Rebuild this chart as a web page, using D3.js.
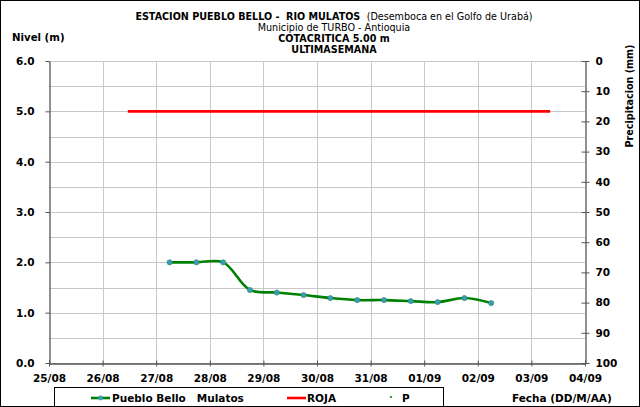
<!DOCTYPE html>
<html><head><meta charset="utf-8">
<script src="https://cdn.jsdelivr.net/npm/d3@7"></script>
<style>
body{margin:0;background:#fff;}
svg{display:block;font-family:"DejaVu Sans",sans-serif;}
.b{font-weight:bold;}
</style></head>
<body>
<svg id="c" width="640" height="407"></svg>
<script>
// ---- data ----
const dateLabels = ["25/08","26/08","27/08","28/08","29/08","30/08","31/08","01/09","02/09","03/09","04/09"];
const levelTicks = [0,1,2,3,4,5,6];
const precipTicks = [0,10,20,30,40,50,60,70,80,90,100];
// days since 25/08 00:00
const levelDays = [2.25,2.75,3.25,3.75,4.25,4.75,5.25,5.75,6.25,6.75,7.25,7.75,8.25];
const levelValues = [2.00,2.00,2.00,1.45,1.40,1.35,1.29,1.25,1.25,1.23,1.21,1.29,1.19];
const rojaDays = [1.47,9.35];
const rojaValues = [5.0,5.0];
const precipDays = [];
const precipValues = [];

const svg = d3.select("#c");
const W=640,H=407;
const L=49,R=585,T=61,B=363;
const FF="'DejaVu Sans',sans-serif";

const x = d3.scaleLinear().domain([0,10]).range([L,R]);
const y = d3.scaleLinear().domain([0,6]).range([B,T]);
const yp = d3.scaleLinear().domain([0,100]).range([T,B]);

// frame
svg.append("rect").attr("x",0.5).attr("y",0.5).attr("width",W-1).attr("height",H-1)
  .attr("fill","#fff").attr("stroke","#000");

// gridlines
const g = svg.append("g");
g.selectAll(".hg").data(d3.range(0,6.01,0.5)).join("line")
  .attr("x1",L).attr("x2",R).attr("y1",d=>Math.round(y(d))+0.5).attr("y2",d=>Math.round(y(d))+0.5)
  .attr("stroke","#c8c8c8").attr("stroke-width",1);
g.selectAll(".vg").data(d3.range(1,10)).join("line")
  .attr("y1",T).attr("y2",B).attr("x1",d=>Math.round(x(d))+0.5).attr("x2",d=>Math.round(x(d))+0.5)
  .attr("stroke","#c8c8c8").attr("stroke-width",1);

// axes
const axL = svg.append("g").attr("transform",`translate(${L+0.5},0)`)
  .call(d3.axisLeft(y).tickValues(levelTicks).tickFormat(d3.format(".1f")).tickSizeInner(4).tickSizeOuter(0));
const axB = svg.append("g").attr("transform",`translate(0,${B+0.5})`)
  .call(d3.axisBottom(x).tickValues(d3.range(0,11)).tickFormat(i=>dateLabels[i]).tickSizeInner(3).tickSizeOuter(0));
const axR = svg.append("g").attr("transform",`translate(${R+0.5},0)`)
  .call(d3.axisRight(yp).tickValues(precipTicks).tickSizeInner(4).tickSizeOuter(0));
[axL,axB,axR].forEach(a=>{
  a.attr("font-family",null).attr("font-size",null);
  a.select(".domain").attr("stroke","#555").attr("stroke-width",1.3);
  a.selectAll(".tick line").attr("stroke","#555");
  a.selectAll("text").style("font-size","10.5px").style("font-weight","bold").attr("fill","#000")
   .style("font-family",FF);
});
axB.selectAll(".tick line").attr("y1",-3).attr("y2",3);
axR.selectAll(".tick line").attr("x1",-4).attr("x2",4);
axL.selectAll("text").attr("x",-15);
axB.selectAll("text").attr("y",11);
axR.selectAll("text").attr("x",10);

// series
const pts = levelDays.map((d,i)=>[d,levelValues[i]]);
const line = d3.line().x(d=>x(d[0])).y(d=>y(d[1])).curve(d3.curveCatmullRom.alpha(0.5));
svg.append("path").attr("d",line(pts)).attr("fill","none").attr("stroke","#008000").attr("stroke-width",2.6);
svg.selectAll(".pt").data(pts).join("circle").attr("cx",d=>x(d[0])).attr("cy",d=>y(d[1])).attr("r",2.6)
  .attr("fill","#3a9db8").attr("stroke","#2a8a6a").attr("stroke-width",0.6);

const roja = rojaDays.map((d,i)=>[d,rojaValues[i]]);
svg.append("path").attr("d",d3.line().x(d=>x(d[0])).y(d=>y(d[1]))(roja))
  .attr("fill","none").attr("stroke","#ff0000").attr("stroke-width",2.6);

svg.selectAll(".pp").data(precipDays.map((d,i)=>[d,precipValues[i]])).join("circle")
  .attr("cx",d=>x(d[0])).attr("cy",d=>yp(d[1])).attr("r",1.2).attr("fill","#008000");

// titles
const tc=334;
const t1 = svg.append("text").attr("x",tc).attr("y",19.5).attr("text-anchor","middle").style("font-size","9.6px").style("white-space","pre");
t1.append("tspan").attr("class","b").text("ESTACION PUEBLO BELLO -  RIO MULATOS ");
t1.append("tspan").text(" (Desemboca en el Golfo de Urabá)");
svg.append("text").attr("x",tc).attr("y",30.8).attr("text-anchor","middle").style("font-size","9.6px").text("Municipio de TURBO - Antioquia");
svg.append("text").attr("x",tc).attr("y",42.1).attr("text-anchor","middle").style("font-size","9.6px").attr("class","b").text("COTACRITICA 5.00 m");
svg.append("text").attr("x",tc).attr("y",53.4).attr("text-anchor","middle").style("font-size","9.6px").attr("class","b").text("ULTIMASEMANA");

svg.append("text").attr("x",12).attr("y",40.5).style("font-size","10.2px").attr("class","b").text("Nivel (m)");
svg.append("text").attr("transform","translate(633,96) rotate(-90)").attr("text-anchor","middle")
  .style("font-size","9.6px").attr("class","b").text("Precipitacion (mm)");

// legend
svg.append("rect").attr("x",54.5).attr("y",387.5).attr("width",389).attr("height",22).attr("fill","none").attr("stroke","#000");
const ly=398;
svg.append("line").attr("x1",91).attr("x2",110).attr("y1",ly).attr("y2",ly).attr("stroke","#008000").attr("stroke-width",2.6);
svg.append("circle").attr("cx",100.5).attr("cy",ly).attr("r",2.4).attr("fill","#3a9db8");
svg.append("text").attr("x",112).attr("y",ly+4).style("font-size","10.5px").style("white-space","pre").attr("class","b").text("Pueblo Bello   Mulatos");
svg.append("line").attr("x1",287).attr("x2",306).attr("y1",ly).attr("y2",ly).attr("stroke","#ff0000").attr("stroke-width",2.6);
svg.append("text").attr("x",307).attr("y",ly+4).style("font-size","10.5px").attr("class","b").text("ROJA");
svg.append("circle").attr("cx",391).attr("cy",ly-1).attr("r",1.1).attr("fill","#008000");
svg.append("text").attr("x",402).attr("y",ly+4).style("font-size","10.5px").attr("class","b").text("P");
svg.append("text").attr("x",512).attr("y",ly+4).style("font-size","10.5px").attr("class","b").text("Fecha (DD/M/AA)");
</script>
</body></html>
